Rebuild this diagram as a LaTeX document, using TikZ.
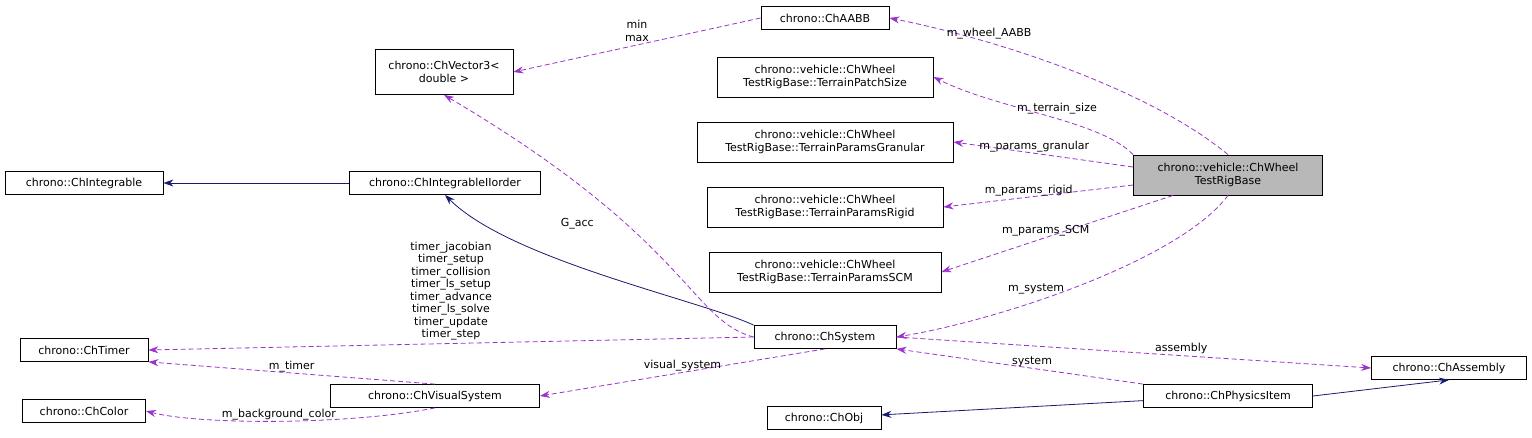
\documentclass[tikz,border=0pt]{standalone}
\usepackage{fontspec}
\setmainfont{DejaVu Sans}
\usetikzlibrary{arrows.meta}
\definecolor{usecol}{RGB}{154,50,205}
\definecolor{inhcol}{RGB}{25,25,112}
\begin{document}
\begin{tikzpicture}[x=1pt,y=-1pt,font=\fontsize{11}{12.5}\selectfont]
\tikzstyle{cls}=[draw,line width=0.8pt,fill=white,inner sep=2pt,align=center,minimum height=23pt]
\tikzstyle{cls2}=[cls,minimum height=40pt]
\tikzstyle{use}=[-{Stealth[length=10pt,width=7pt]},dash pattern=on 5pt off 3pt,color=usecol,line width=0.8pt]
\tikzstyle{inh}=[-{Stealth[length=10pt,width=7pt]},color=inhcol,line width=0.8pt]
\tikzstyle{lbl}=[align=center,inner sep=1pt,text=black]
\useasboundingbox (0,0) rectangle (1532,437);

% classes
\node[cls,minimum width=128pt] (aabb) at (825,18) {chrono::ChAABB};
\node[cls2,minimum width=138pt,minimum height=45pt] (vec) at (444,72) {chrono::ChVector3<\\double >};
\node[cls2,minimum width=216pt] (patch) at (825,77) {chrono::vehicle::ChWheel\\TestRigBase::TerrainPatchSize};
\node[cls2,minimum width=256pt] (gran) at (825,142) {chrono::vehicle::ChWheel\\TestRigBase::TerrainParamsGranular};
\node[cls2,minimum width=189pt,fill=black!28] (rig) at (1228,175) {chrono::vehicle::ChWheel\\TestRigBase};
\node[cls2,minimum width=236pt] (rigid) at (825,207) {chrono::vehicle::ChWheel\\TestRigBase::TerrainParamsRigid};
\node[cls2,minimum width=232pt] (scm) at (825,272) {chrono::vehicle::ChWheel\\TestRigBase::TerrainParamsSCM};
\node[cls,minimum width=158pt] (integ) at (84,183) {chrono::ChIntegrable};
\node[cls,minimum width=191pt] (integ2) at (445,183) {chrono::ChIntegrableIIorder};
\node[cls,minimum width=142pt] (sys) at (825,337) {chrono::ChSystem};
\node[cls,minimum width=128pt] (timer) at (84,350) {chrono::ChTimer};
\node[cls,minimum width=209pt] (vis) at (435,396) {chrono::ChVisualSystem};
\node[cls,minimum width=123pt] (color) at (84,411) {chrono::ChColor};
\node[cls,minimum width=155pt] (asm) at (1449,368) {chrono::ChAssembly};
\node[cls,minimum width=169pt] (phys) at (1228,396) {chrono::ChPhysicsItem};
\node[cls,minimum width=114pt] (obj) at (824,418) {chrono::ChObj};

% inheritance
\draw[inh] (integ2) -- (integ);
\draw[inh] (sys.north west) .. controls (700,300) and (510,260) .. (integ2.south);
\draw[inh] (phys.east) -- (asm.south);
\draw[inh] (phys) -- (obj);

% usage
\draw[use] (rig.north) .. controls (1150,90) and (1000,40) .. node[lbl,above=2pt,pos=0.72] {m\_wheel\_AABB} (aabb.east);
\draw[use] (aabb.west) -- node[lbl,above=2pt] {min\\max} (vec.east);
\draw[use] (rig.north west) .. controls (1100,120) and (1000,110) .. node[lbl,above=3pt,pos=0.45] {m\_terrain\_size} (patch.east);
\draw[use] (rig.west) ++(0,-8) -- node[lbl,above,pos=0.55] {m\_params\_granular} (gran.east);
\draw[use] (rig.west) ++(0,10) -- node[lbl,above,pos=0.55] {m\_params\_rigid} (rigid.east);
\draw[use] (rig.south west) ++(40,0) -- node[lbl,above,pos=0.55] {m\_params\_SCM} (scm.east);
\draw[use] (rig.south) .. controls (1180,260) and (1000,320) .. node[lbl,above=6pt,pos=0.62] {m\_system} (sys.east);
\draw[use] (sys.west) .. controls (690,320) and (690,240) .. node[lbl,left=30pt,pos=0.65] {G\_acc} (vec.south);
\draw[use] (sys.west) -- node[lbl,pos=0.5,above=2pt] {timer\_jacobian\\timer\_setup\\timer\_collision\\timer\_ls\_setup\\timer\_advance\\timer\_ls\_solve\\timer\_update\\timer\_step} (timer.east);
\draw[use] (vis.north) -- node[lbl,above,pos=0.5] {m\_timer} (timer.south east);
\draw[use] (sys.south) -- node[lbl,above,pos=0.5] {visual\_system} (vis.east);
\draw[use] (vis.south) .. controls (350,425) and (200,425) .. node[lbl,above] {m\_background\_color} (color.east);
\draw[use] (sys.east) -- node[lbl,above,pos=0.6] {assembly} (asm.west);
\draw[use] (phys.north west) -- node[lbl,above,pos=0.45] {system} (sys.south east);
\end{tikzpicture}
\end{document}
